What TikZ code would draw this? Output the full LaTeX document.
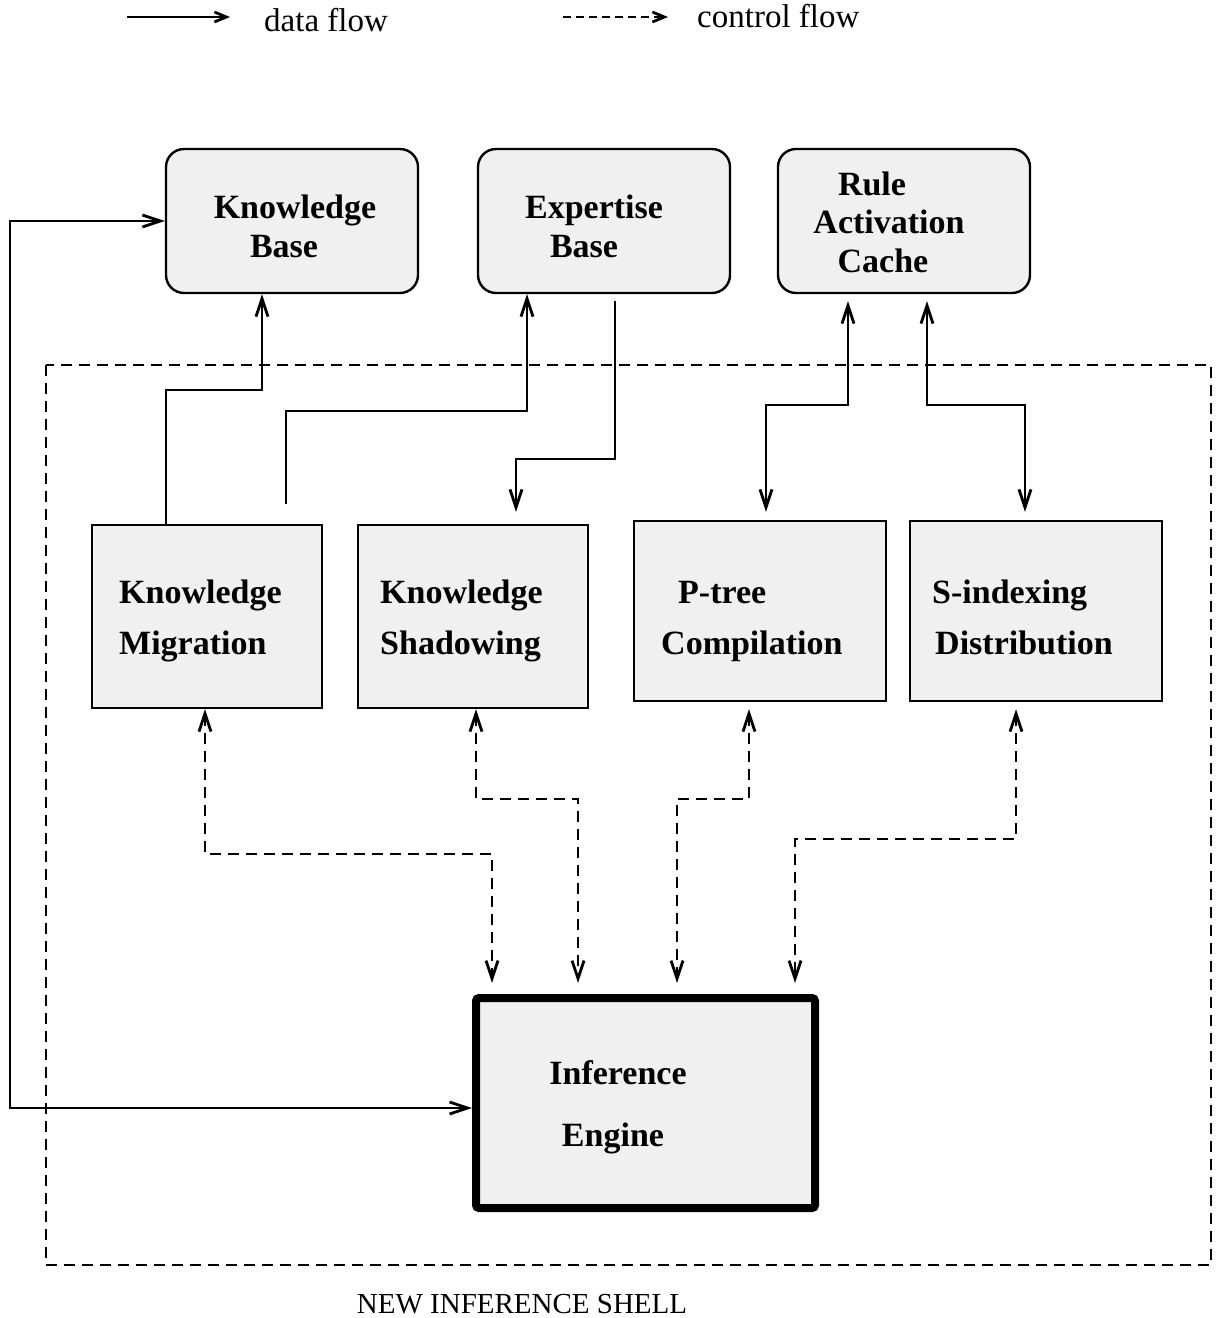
\documentclass[tikz,border=0pt]{standalone}
\usepackage{fontspec}
\setmainfont{Liberation Serif}
\usetikzlibrary{arrows.meta}
\definecolor{boxfill}{HTML}{F0F0F0}
\begin{document}
\begin{tikzpicture}[x=1bp,y=-1bp,
  >={Straight Barb[length=18bp,width=12bp]},
  store/.style={draw, line width=2.4bp, fill=boxfill, rounded corners=18bp,
    minimum width=252bp, minimum height=144bp, inner sep=0pt},
  module/.style={draw, line width=2.4bp, fill=boxfill,
    inner sep=0pt},
  engine/.style={draw, line width=8bp, fill=boxfill, rounded corners=3bp,
    minimum width=339bp, minimum height=210bp, inner sep=0pt},
  label/.style={font=\fontsize{34bp}{40bp}\selectfont\bfseries, inner sep=0pt},
  plain/.style={font=\fontsize{33bp}{40bp}\selectfont, inner sep=0pt},
  data/.style={line width=2.8bp, line join=miter},
  ctrl/.style={line width=2.8bp, dash pattern=on 11bp off 7bp, line join=miter},
  shellframe/.style={line width=2.8bp, dash pattern=on 11bp off 7bp},
  keytip/.style={-{Straight Barb[length=12bp,width=10bp]}}
]
\useasboundingbox (0,0) rectangle (1215,1318);

% legend
\coordinate (da) at (127,17);
\coordinate (db) at (230,17);
\coordinate (ca) at (563,17);
\coordinate (cb) at (668,17);
\draw[data,keytip] (da) -- (db);
\node[plain, anchor=base west] (datakey) at (264,32) {data flow};
\draw[data,keytip,dash pattern=on 8bp off 5bp] (ca) -- (cb);
\node[plain, anchor=base west] (ctrlkey) at (697,28) {control flow};

% knowledge stores
\node[store] (kb) at (292,221) {};
\node[label, anchor=base] (kbt1) at (295,219) {Knowledge};
\node[label, anchor=base] (kbt2) at (284,258) {Base};

\node[store] (eb) at (604,221) {};
\node[label, anchor=base] (ebt1) at (594,219) {Expertise};
\node[label, anchor=base] (ebt2) at (584,258) {Base};

\node[store] (rac) at (904,221) {};
\node[label, anchor=base] (ract1) at (872,196) {Rule};
\node[label, anchor=base] (ract2) at (889,234) {Activation};
\node[label, anchor=base] (ract3) at (883,273) {Cache};

% shell boundary
\draw[shellframe] (46,365) rectangle (1211,1265);
\node[plain, font=\fontsize{29bp}{34bp}\selectfont, anchor=base] (shellname) at (522,1313) {NEW INFERENCE SHELL};

% modules
\node[module, minimum width=230bp, minimum height=183bp] (km) at (207,616.5) {};
\node[label, anchor=base west] (kmt1) at (119,603) {Knowledge};
\node[label, anchor=base west] (kmt2) at (119,654) {Migration};

\node[module, minimum width=230bp, minimum height=183bp] (ks) at (473,616.5) {};
\node[label, anchor=base west] (kst1) at (380,603) {Knowledge};
\node[label, anchor=base west] (kst2) at (380,654) {Shadowing};

\node[module, minimum width=252bp, minimum height=180bp] (pt) at (760,611) {};
\node[label, anchor=base west] (ptt1) at (678,603) {P-tree};
\node[label, anchor=base west] (ptt2) at (661,654) {Compilation};

\node[module, minimum width=252bp, minimum height=180bp] (si) at (1036,611) {};
\node[label, anchor=base west] (sit1) at (932,603) {S-indexing};
\node[label, anchor=base west] (sit2) at (935,654) {Distribution};

% inference engine
\node[engine] (ie) at (645.5,1103) {};
\node[label, anchor=base] (iet1) at (618,1084) {Inference};
\node[label, anchor=base] (iet2) at (613,1146) {Engine};

% data flow
\draw[data,<->] (kb.west) -- (10,221) -- (10,1108) -- (ie.west |- 0,1108);
\draw[data,->] (km.north -| 166,0) |- (262,390) -- (kb.south -| 262,0);
\draw[data,->,shorten <=20bp] (km.north -| 286,0) |- (527,411) -- (eb.south -| 527,0);
\draw[data,->,shorten <=7bp,shorten >=12bp] (eb.south -| 615,0) |- (516,459) -- (ks.north -| 516,0);
\draw[data,<->,shorten <=7bp,shorten >=8bp] (rac.south -| 848,0) |- (766,405) -- (pt.north -| 766,0);
\draw[data,<->,shorten <=7bp,shorten >=8bp] (rac.south -| 927,0) |- (1025,405) -- (si.north -| 1025,0);

% control flow
\draw[ctrl,<->,shorten >=11bp] (km.south -| 205,0) |- (492,854) -- (ie.north -| 492,0);
\draw[ctrl,<->,shorten >=11bp] (ks.south -| 476,0) |- (578,799) -- (ie.north -| 578,0);
\draw[ctrl,<->,shorten <=7bp,shorten >=11bp] (pt.south -| 749,0) |- (677,799) -- (ie.north -| 677,0);
\draw[ctrl,<->,shorten <=7bp,shorten >=11bp] (si.south -| 1016,0) |- (795,839) -- (ie.north -| 795,0);
\end{tikzpicture}
\end{document}
